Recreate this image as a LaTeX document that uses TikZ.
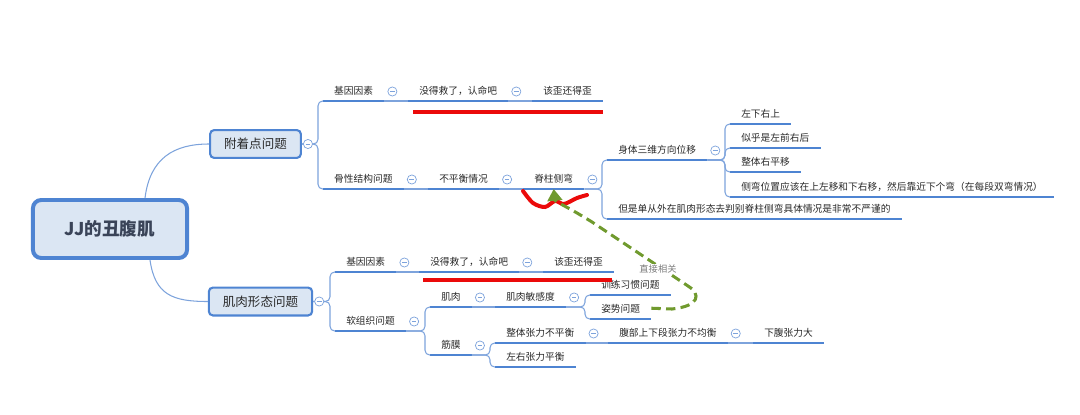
\documentclass[tikz,border=0pt]{standalone}
\usepackage{fontspec}
\setmainfont{Noto Sans CJK SC}
\usetikzlibrary{arrows.meta}
\definecolor{xblue}{RGB}{78,132,210}
\definecolor{lineblue}{RGB}{125,163,220}
\definecolor{boxfill}{RGB}{219,230,243}
\definecolor{ink}{RGB}{40,40,40}
\definecolor{rootink}{RGB}{58,68,88}
\definecolor{relgreen}{RGB}{112,154,46}
\definecolor{markred}{RGB}{235,10,10}
\definecolor{labelgray}{RGB}{125,125,125}
\begin{document}
\begin{tikzpicture}[x=0.03cm, y=-0.03cm,
  root/.style={draw=xblue, line width=3.4pt, fill=boxfill, rounded corners=7pt,
    minimum width=131.5pt, minimum height=49.5pt, text=rootink, font=\fontsize{15}{18}\selectfont\bfseries},
  subject/.style={draw=xblue, line width=1.8pt, fill=boxfill, rounded corners=3.5pt,
    minimum height=23.8pt, inner xsep=12pt, text=ink, font=\fontsize{10.7}{13}\selectfont},
  topic/.style={anchor=south west, inner xsep=9.4pt, inner ysep=5pt, text height=8pt, text depth=0pt,
    text=ink, font=\fontsize{8.3}{10}\selectfont,
    append after command={(\tikzlastnode.south west) edge[uline] (\tikzlastnode.south east)}},
  uline/.style={draw=xblue, line width=2.1pt},
  link/.style={draw=lineblue, line width=0.9pt},
  fork/.style={link, rounded corners=4pt},
  fold/.style={circle, draw=lineblue, fill=white, line width=0.6pt, minimum size=7.8pt, inner sep=0pt,
    path picture={\draw[lineblue, line width=0.6pt]
      ([xshift=-2pt]path picture bounding box.center) -- ([xshift=2pt]path picture bounding box.center);}},
  redbar/.style={draw=markred, line width=4pt},
  relline/.style={draw=relgreen, line width=2.6pt, dash pattern=on 8pt off 4.5pt,
    -{Triangle[length=10pt,width=12.5pt]}}
]
\useasboundingbox (0,0) rectangle (1080,414);

\node[root] (jj) at (110,229) {JJ的丑腹肌};
\node[subject] (attach) at (255.5,144) {附着点问题};
\node[subject] (form) at (260.5,301.5) {肌肉形态问题};

\node[topic] (gene1) at (323,101) {基因因素};
\node[topic] (hope1) at (408,101) {没得救了，认命吧};
\node[topic] (crook1) at (532,101) {该歪还得歪};
\node[topic] (bone) at (323,189) {骨性结构问题};
\node[topic] (imbal) at (428,189) {不平衡情况};
\node[topic] (scol) at (523,189) {脊柱侧弯};
\node[topic] (shift) at (607,160) {身体三维方向位移};
\node[topic] (judge) at (607,219) {但是单从外在肌肉形态去判别脊柱侧弯具体情况是非常不严谨的};
\node[topic] (ldru) at (730,124) {左下右上};
\node[topic] (lfrb) at (730,148) {似乎是左前右后};
\node[topic] (right) at (730,172) {整体右平移};
\node[topic] (pos) at (730,197) {侧弯位置应该在上左移和下右移，然后靠近下个弯（在每段双弯情况）};

\node[topic] (gene2) at (335,272) {基因因素};
\node[topic] (hope2) at (419,272) {没得救了，认命吧};
\node[topic] (crook2) at (543,272) {该歪还得歪};
\node[topic] (soft) at (335,331) {软组织问题};
\node[topic] (muscle) at (430,307) {肌肉};
\node[topic] (sens) at (495,307) {肌肉敏感度};
\node[topic] (habit) at (590,295) {训练习惯问题};
\node[topic] (pose) at (590,319) {姿势问题};
\node[topic] (fascia) at (430,355) {筋膜};
\node[topic] (whole) at (495,343) {整体张力不平衡};
\node[topic] (belly) at (608,343) {腹部上下段张力不均衡};
\node[topic] (lower) at (753,343) {下腹张力大};
\node[topic] (lr) at (495,367) {左右张力平衡};

\draw[link] ([shift={(35,0)}]jj.north) .. controls +(5,-40) and +(-35,0) .. (attach.west);
\draw[link] ([shift={(40,0)}]jj.south) .. controls +(5,35) and +(-35,0) .. (form.west);

\foreach \c in {gene1,bone}
  \draw[fork] (attach.east) -| ([shift={(-5,0)}]\c.south west) -- (\c.south west);
\foreach \c in {gene2,soft}
  \draw[fork] (form.east) -| ([shift={(-5,0)}]\c.south west) -- (\c.south west);
\foreach \p/\c in {scol/shift, scol/judge, shift/ldru, shift/lfrb, shift/right, shift/pos,
    soft/muscle, soft/fascia, sens/habit, sens/pose, fascia/whole, fascia/lr}
  \draw[fork] (\p.south east) -| ([shift={(-5,0)}]\c.south west) -- (\c.south west);
\foreach \a/\b in {gene1/hope1, hope1/crook1, bone/imbal, imbal/scol, gene2/hope2, hope2/crook2,
    muscle/sens, whole/belly, belly/lower}
  \draw[link] (\a.south east) -- (\b.south west);

\node[fold] (fattach) at ([shift={(6,0)}]attach.east) {};
\node[fold] (fform) at ([shift={(6,0)}]form.east) {};
\foreach \n in {gene1, hope1, bone, imbal, scol, shift, gene2, hope2, soft, muscle, sens, fascia, whole, belly}
  \node[fold] (f\n) at ([shift={(8,-9.5)}]\n.south east) {};

\draw[redbar] (413,112) -- (603,112);
\draw[redbar] (423,280) -- (612,280);
\draw[draw=markred, line width=3.4pt, line cap=round] plot[smooth] coordinates
  {(523,191) (533,203) (545,207) (555,201) (564,204) (577,198) (587,195)};

\draw[relline] (pose.east) -- (672,309) .. controls (700,306) and (701,294) .. (688,286)
  -- (592,222) .. controls (563,204) and (555,202) .. (scol.south);
\node[fill=white, inner sep=1pt, text=labelgray, font=\fontsize{7.9}{9}\selectfont] (rel) at (658,269) {直接相关};
\end{tikzpicture}
\end{document}
